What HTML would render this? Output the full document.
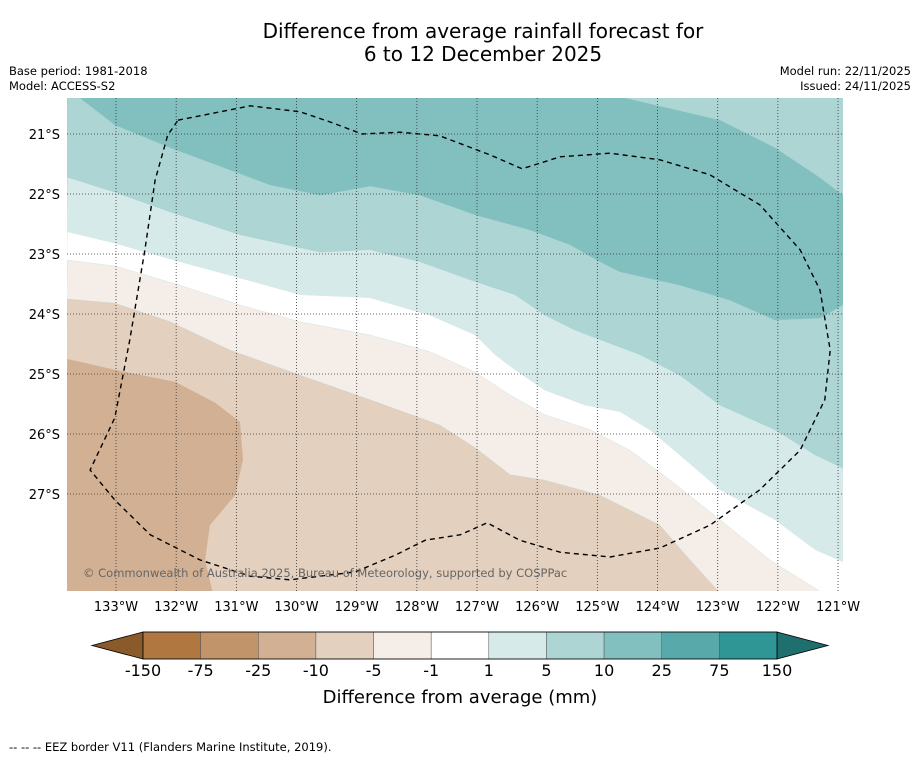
<!DOCTYPE html>
<html><head><meta charset="utf-8"><style>
body{margin:0;background:#fff;width:919px;height:758px;overflow:hidden;font-family:"DejaVu Sans","Liberation Sans",sans-serif}
svg{display:block;font-family:"DejaVu Sans","Liberation Sans",sans-serif}
</style></head><body>
<svg id="c" width="919" height="758" xmlns="http://www.w3.org/2000/svg">
<text x="483" y="38" font-size="20" text-anchor="middle">Difference from average rainfall forecast for</text>
<text x="483" y="61" font-size="20" text-anchor="middle">6 to 12 December 2025</text>
<text x="9" y="75" font-size="11.5">Base period: 1981-2018</text>
<text x="9" y="90" font-size="11.5">Model: ACCESS-S2</text>
<text x="911" y="75" font-size="11.5" text-anchor="end">Model run: 22/11/2025</text>
<text x="911" y="90" font-size="11.5" text-anchor="end">Issued: 24/11/2025</text>
<defs><clipPath id="mc"><rect x="67" y="98" width="776" height="493"/></clipPath></defs>
<g id="map" clip-path="url(#mc)"></g>
<g id="grid"></g>
<g id="axes"></g>
<g id="cbar"></g>
<text x="460" y="703" font-size="18" text-anchor="middle">Difference from average (mm)</text>
<text x="9" y="751" font-size="11.5">--  --  -- EEZ border V11 (Flanders Marine Institute, 2019).</text>
</svg>
<script>
const NS="http://www.w3.org/2000/svg";
// data
const lonTicks=[133,132,131,130,129,128,127,126,125,124,123,122,121];
const latTicks=[21,22,23,24,25,26,27];
const cbLabels=["-150","-75","-25","-10","-5","-1","1","5","10","25","75","150"];
const cbColors=["#b07840","#c1946a","#d2b093","#e3d0be","#f4ede8","#ffffff","#d7eaea","#acd5d4","#82bfbf","#58aaaa","#2f9595"];
const contourTopRight=[[124.54,20.4],[122.96,20.77],[122.05,21.23],[121.3,21.73],[120.92,22.02]];
const contour10=[[133.81,20.23],[133.6,20.4],[133.02,20.85],[132.1,21.23],[130.44,21.85],[129.6,22.02],[128.78,21.87],[127.95,22.02],[127.03,22.35],[126.12,22.6],[125.45,22.85],[124.96,23.13],[124.62,23.3],[123.63,23.52],[122.8,23.77],[122.05,24.1],[121.3,24.07],[120.92,23.85]];
const contour5=[[133.81,21.72],[133.02,21.97],[132.1,22.3],[130.94,22.68],[129.6,22.97],[128.78,22.93],[127.95,23.13],[127.12,23.43],[126.37,23.68],[125.87,24.02],[125.37,24.27],[124.29,24.68],[123.63,25.02],[122.96,25.52],[122.05,25.93],[121.38,26.35],[120.92,26.57]];
const contour1=[[133.81,22.63],[133.02,22.82],[131.94,23.13],[130.94,23.4],[129.94,23.68],[128.78,23.73],[127.78,24.02],[127.03,24.35],[126.7,24.68],[126.37,24.93],[125.87,25.27],[125.2,25.52],[124.62,25.63],[124.13,25.93],[123.63,26.35],[122.96,26.93],[122.05,27.43],[121.38,27.93],[120.92,28.13]];
const contourM1=[[133.81,23.1],[133.02,23.2],[131.94,23.52],[130.94,23.85],[129.94,24.13],[128.78,24.35],[127.78,24.63],[127.03,24.97],[126.45,25.35],[125.87,25.68],[125.12,25.93],[124.46,26.27],[123.79,26.77],[122.96,27.43],[122.13,28.1],[121.3,28.62]];
const contourM5=[[133.81,23.75],[133.02,23.82],[132.1,24.13],[131.11,24.6],[129.94,25.02],[128.78,25.43],[127.62,25.85],[127.03,26.23],[126.45,26.68],[125.87,26.77],[124.96,27.02],[123.96,27.52],[123.46,28.1],[122.99,28.62]];
const contourM10=[[133.81,24.75],[133.02,24.93],[132.02,25.13],[131.35,25.48],[130.94,25.8],[130.89,26.43],[131.02,27.02],[131.44,27.52],[131.52,28.1],[131.4,28.62]];
const eez=[[131.97,20.77],[130.77,20.53],[129.94,20.63],[129.44,20.8],[128.91,21],[128.28,20.97],[127.62,21.03],[126.78,21.35],[126.25,21.58],[125.62,21.38],[124.79,21.32],[123.96,21.43],[123.13,21.68],[122.3,22.18],[121.63,22.93],[121.3,23.6],[121.13,24.6],[121.22,25.43],[121.63,26.27],[122.3,26.93],[123.13,27.52],[123.96,27.9],[124.79,28.05],[125.62,27.97],[126.29,27.77],[126.83,27.48],[127.28,27.68],[127.86,27.77],[128.36,28.02],[129.03,28.3],[130.11,28.43],[130.77,28.37],[131.6,28.1],[132.43,27.68],[133.02,27.1],[133.43,26.6],[133.02,25.73],[132.77,24.43],[132.52,22.93],[132.35,21.77],[132.14,21.02],[131.97,20.77]];
// axes
const X=l=>116+(133-l)*60.17, Y=a=>134+(a-21)*60;
const L=67,R=843,T=98,B=591;
function el(t,a,p){const e=document.createElementNS(NS,t);for(const k in a)e.setAttribute(k,a[k]);p.appendChild(e);return e;}
const map=document.getElementById('map');
const bg=el('rect',{x:L,y:T,width:R-L,height:B-T,fill:'#82bfbf'},map);


function pts(c){return c.map(p=>X(p[0]).toFixed(1)+','+Y(p[1]).toFixed(1));}
function below(c){const p=pts(c);p.push(R+5+','+(B+5),L-5+','+(B+5));return p.join(' ');}
const tr=el('polygon',{points:pts(contourTopRight).concat([R+5+','+(T-5)]).join(' '),fill:'#acd5d4'},map);


const bands=[[contour10,'#acd5d4','band-5-10'],[contour5,'#d7eaea','band-1-5'],[contour1,'#ffffff','band-neutral'],[contourM1,'#f4ede8','band-minus5-minus1'],[contourM5,'#e3d0be','band-minus10-minus5']];
bands.forEach(b=>{const p=el('polygon',{points:below(b[0]),fill:b[1],stroke:b[1]==='#ffffff'?'#c8d8d8':'#9cc',"stroke-width":0.4,"stroke-opacity":0.5},map);

});
const lp=pts(contourM10);lp.push(L-5+','+(B+5));
const m10=el('polygon',{points:lp.join(' '),fill:'#d2b093'},map);


const ez=el('polyline',{points:pts(eez).join(' '),fill:'none',stroke:'#000',"stroke-width":1.4,"stroke-dasharray":"5,4"},map);


const cr=el('text',{x:83,y:577,"font-size":11.5,fill:'#666'},map);cr.textContent='© Commonwealth of Australia 2025, Bureau of Meteorology, supported by COSPPac';


const grid=document.getElementById('grid'),axes=document.getElementById('axes');
lonTicks.forEach(l=>{const x=X(l);
const g=el('line',{x1:x,x2:x,y1:T,y2:B,stroke:'#333',"stroke-width":0.8,"stroke-dasharray":"1,2"},grid);


const t=el('text',{x:x,y:611,"font-size":13,"text-anchor":"middle"},axes);t.textContent=l+'°W';

});
latTicks.forEach(a=>{const y=Y(a);
const g=el('line',{x1:L,x2:R,y1:y,y2:y,stroke:'#333',"stroke-width":0.8,"stroke-dasharray":"1,2"},grid);


const t=el('text',{x:60,y:y+5,"font-size":13,"text-anchor":"end"},axes);t.textContent=a+'°S';

});
// colorbar
const cb=document.getElementById('cbar');const cx0=143,cw=(777-143)/cbColors.length,cy=632,ch=27;
const le=el('polygon',{points:`${cx0},${cy} 92,${cy+ch/2} ${cx0},${cy+ch}`,fill:'#8b5a2b',stroke:'#000',"stroke-width":0.8},cb);


const he=el('polygon',{points:`777,${cy} 828,${cy+ch/2} 777,${cy+ch}`,fill:'#1f6f6f',stroke:'#000',"stroke-width":0.8},cb);


cbColors.forEach((c,i)=>{const r=el('rect',{x:cx0+i*cw,y:cy,width:cw,height:ch,fill:c,stroke:'#555',"stroke-width":0.5},cb);

});
const fr=el('rect',{x:cx0,y:cy,width:777-cx0,height:ch,fill:'none',stroke:'#000',"stroke-width":0.8},cb);


cbLabels.forEach((s,i)=>{const t=el('text',{x:cx0+i*cw,y:676,"font-size":16,"text-anchor":"middle"},cb);t.textContent=s;

});
</script>
</body></html>
